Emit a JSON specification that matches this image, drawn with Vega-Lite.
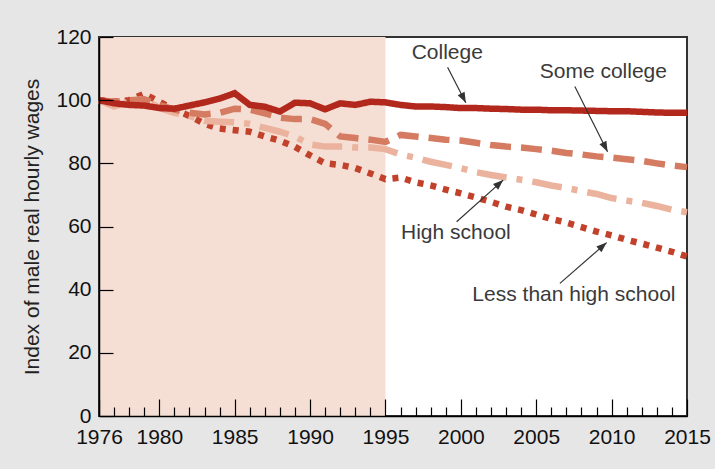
{
  "$schema": "https://vega.github.io/schema/vega-lite/v6.json",
  "width": 588,
  "height": 379,
  "autosize": {"type": "none"},
  "padding": {"left": 99, "top": 37, "right": 28, "bottom": 53},
  "background": "#e6e6e6",
  "config": {
    "view": {"stroke": "#333333", "strokeWidth": 2, "fill": "#ffffff"},
    "font": "Liberation Sans"
  },
  "datasets": {
    "wages": [
      {"year": 1976, "College": 100, "Some college": 100, "High school": 100, "Less than high school": 100},
      {"year": 1977, "College": 99, "Some college": 99.5, "High school": 98, "Less than high school": 99.5},
      {"year": 1978, "College": 98.5, "Some college": 100, "High school": 99.5, "Less than high school": 100},
      {"year": 1979, "College": 98.3, "Some college": 100.3, "High school": 100.5, "Less than high school": 102},
      {"year": 1980, "College": 97.5, "Some college": 98.5, "High school": 97.5, "Less than high school": 99.5},
      {"year": 1981, "College": 97.3, "Some college": 97, "High school": 96, "Less than high school": 97},
      {"year": 1982, "College": 98.3, "Some college": 96, "High school": 95, "Less than high school": 95},
      {"year": 1983, "College": 99.3, "Some college": 95.5, "High school": 93.5, "Less than high school": 92.5},
      {"year": 1984, "College": 100.5, "Some college": 96, "High school": 93.2, "Less than high school": 91},
      {"year": 1985, "College": 102.2, "Some college": 97.3, "High school": 93, "Less than high school": 90.5},
      {"year": 1986, "College": 98.5, "Some college": 97, "High school": 92.5, "Less than high school": 90},
      {"year": 1987, "College": 97.9, "Some college": 95.8, "High school": 91.2, "Less than high school": 88.5},
      {"year": 1988, "College": 96.4, "Some college": 94.5, "High school": 90, "Less than high school": 87.2},
      {"year": 1989, "College": 99.2, "Some college": 94, "High school": 88.5, "Less than high school": 85.2},
      {"year": 1990, "College": 99, "Some college": 94, "High school": 86, "Less than high school": 82.5},
      {"year": 1991, "College": 97.1, "Some college": 92.5, "High school": 85.3, "Less than high school": 80},
      {"year": 1992, "College": 99, "Some college": 88.5, "High school": 85.3, "Less than high school": 79.5},
      {"year": 1993, "College": 98.5, "Some college": 88, "High school": 85, "Less than high school": 78.5},
      {"year": 1994, "College": 99.5, "Some college": 87.5, "High school": 85, "Less than high school": 76.8},
      {"year": 1995, "College": 99.3, "Some college": 86.8, "High school": 84.5, "Less than high school": 75},
      {"year": 1996, "College": 98.5, "Some college": 89, "High school": 82.8, "Less than high school": 75.5},
      {"year": 1997, "College": 98, "Some college": 88.5, "High school": 81.8, "Less than high school": 74},
      {"year": 1998, "College": 98, "Some college": 88, "High school": 80.5, "Less than high school": 73},
      {"year": 1999, "College": 97.8, "Some college": 87.5, "High school": 79.5, "Less than high school": 71.7},
      {"year": 2000, "College": 97.5, "Some college": 87.2, "High school": 78.5, "Less than high school": 70.5},
      {"year": 2001, "College": 97.5, "Some college": 86.5, "High school": 77.2, "Less than high school": 69.2},
      {"year": 2002, "College": 97.3, "Some college": 85.8, "High school": 76.3, "Less than high school": 67.8},
      {"year": 2003, "College": 97.2, "Some college": 85.3, "High school": 75.5, "Less than high school": 66.3},
      {"year": 2004, "College": 97, "Some college": 85, "High school": 74.8, "Less than high school": 65.2},
      {"year": 2005, "College": 97, "Some college": 84.5, "High school": 74, "Less than high school": 63.8},
      {"year": 2006, "College": 96.8, "Some college": 84, "High school": 73, "Less than high school": 62.4},
      {"year": 2007, "College": 96.8, "Some college": 83.3, "High school": 72.2, "Less than high school": 61.2},
      {"year": 2008, "College": 96.7, "Some college": 82.8, "High school": 71.2, "Less than high school": 59.8},
      {"year": 2009, "College": 96.6, "Some college": 82.2, "High school": 70.3, "Less than high school": 58.4},
      {"year": 2010, "College": 96.5, "Some college": 81.8, "High school": 69, "Less than high school": 57.2},
      {"year": 2011, "College": 96.5, "Some college": 81.3, "High school": 68.2, "Less than high school": 55.8},
      {"year": 2012, "College": 96.3, "Some college": 80.8, "High school": 67.5, "Less than high school": 54.6},
      {"year": 2013, "College": 96.1, "Some college": 80, "High school": 66.5, "Less than high school": 53.3},
      {"year": 2014, "College": 96, "Some college": 79.3, "High school": 65.3, "Less than high school": 52},
      {"year": 2015, "College": 96, "Some college": 78.8, "High school": 64.5, "Less than high school": 50.5}
    ],
    "labels": [
      {"label": "College", "x": 1999.1, "y": 114.9},
      {"label": "Some college", "x": 2009.45, "y": 109},
      {"label": "High school", "x": 1999.67, "y": 57.85},
      {"label": "Less than high school", "x": 2007.5, "y": 38.3}
    ],
    "arrows": [
      {"label": "College", "x": 1999.12, "y": 110.4, "x2": 2000.33, "y2": 99.2},
      {"label": "Some college", "x": 2007.56, "y": 104.3, "x2": 2009.73, "y2": 83.7},
      {"label": "High school", "x": 1999.72, "y": 61.5, "x2": 2002.81, "y2": 74.7},
      {"label": "Less than high school", "x": 2006.57, "y": 42.0, "x2": 2009.67, "y2": 54.9}
    ],
    "shade": [{"start": 1976, "end": 1995}]
  },
  "resolve": {"axis": {"x": "independent"}},
  "layer": [
    {
      "data": {"name": "shade"},
      "mark": {"type": "rect", "fill": "#f5dfd5"},
      "encoding": {
        "x": {
          "field": "start", "type": "quantitative",
          "scale": {"domain": [1976, 2015], "nice": false, "zero": false},
          "axis": {
            "orient": "bottom", "zindex": 1,
            "values": [1977, 1978, 1979, 1981, 1982, 1983, 1984, 1986, 1987, 1988, 1989, 1991, 1992, 1993, 1994, 1996, 1997, 1998, 1999, 2001, 2002, 2003, 2004, 2006, 2007, 2008, 2009, 2011, 2012, 2013, 2014],
            "labels": false, "domain": false, "grid": false, "title": null,
            "tickSize": -9, "tickColor": "#000000", "tickWidth": 1.2
          }
        },
        "x2": {"field": "end"}
      }
    },
    {
      "data": {"name": "wages"},
      "transform": [
        {"fold": ["Less than high school", "High school", "Some college", "College"], "as": ["series", "value"]}
      ],
      "mark": {"type": "line", "strokeWidth": 6.5, "strokeCap": "butt", "strokeJoin": "miter"},
      "encoding": {
        "x": {
          "field": "year", "type": "quantitative",
          "scale": {"domain": [1976, 2015], "nice": false, "zero": false},
          "axis": {
            "orient": "bottom", "zindex": 1,
            "values": [1976, 1980, 1985, 1990, 1995, 2000, 2005, 2010, 2015],
            "format": "d", "title": null, "grid": false,
            "domainColor": "#000000", "domainWidth": 1.5,
            "tickColor": "#000000", "tickWidth": 1.2, "tickSize": -17,
            "labelPadding": 27, "labelFontSize": 21, "labelColor": "#111111",
            "labelFont": "Liberation Sans", "labelFlush": false, "labelOverlap": false
          }
        },
        "y": {
          "field": "value", "type": "quantitative",
          "scale": {"domain": [0, 120], "nice": false},
          "axis": {
            "zindex": 1,
            "values": [0, 20, 40, 60, 80, 100, 120],
            "title": "Index of male real hourly wages",
            "titleFontSize": 21, "titleFont": "Liberation Sans", "titleFontWeight": "normal",
            "titleColor": "#222222", "titlePadding": 13,
            "grid": false,
            "domainColor": "#000000", "domainWidth": 1.5,
            "tickColor": "#000000", "tickWidth": 1.2, "tickSize": -14,
            "labelPadding": 22, "labelFontSize": 21, "labelColor": "#111111",
            "labelFont": "Liberation Sans", "labelFlush": false, "labelOverlap": false
          }
        },
        "color": {
          "field": "series", "type": "nominal", "legend": null,
          "scale": {
            "domain": ["College", "Some college", "High school", "Less than high school"],
            "range": ["#b3281d", "#d47b61", "#ebb39e", "#c2412b"]
          }
        },
        "strokeDash": {
          "field": "series", "type": "nominal", "legend": null,
          "scale": {
            "domain": ["College", "Some college", "High school", "Less than high school"],
            "range": [[1, 0], [21, 10], [30, 10, 6, 10], [6, 7]]
          }
        }
      }
    },
    {
      "data": {"name": "labels"},
      "mark": {"type": "text", "fontSize": 21, "font": "Liberation Sans", "fill": "#3a3a3a", "align": "center", "baseline": "middle"},
      "encoding": {
        "x": {"field": "x", "type": "quantitative", "axis": null},
        "y": {"field": "y", "type": "quantitative"},
        "text": {"field": "label"}
      }
    },
    {
      "data": {"name": "arrows"},
      "mark": {"type": "rule", "stroke": "#333333", "strokeWidth": 1.2},
      "encoding": {
        "x": {"field": "x", "type": "quantitative", "axis": null},
        "y": {"field": "y", "type": "quantitative"},
        "x2": {"field": "x2"},
        "y2": {"field": "y2"}
      }
    },
    {
      "data": {"name": "arrows"},
      "transform": [{"filter": "datum.label === 'College'"}],
      "mark": {"type": "point", "shape": "M0,0L0.38,1L-0.38,1Z", "filled": true, "fill": "#333333", "strokeWidth": 0, "opacity": 1, "size": 420, "angle": 152.7},
      "encoding": {
        "x": {"field": "x2", "type": "quantitative", "axis": null},
        "y": {"field": "y2", "type": "quantitative"}
      }
    },
    {
      "data": {"name": "arrows"},
      "transform": [{"filter": "datum.label === 'Some college'"}],
      "mark": {"type": "point", "shape": "M0,0L0.38,1L-0.38,1Z", "filled": true, "fill": "#333333", "strokeWidth": 0, "opacity": 1, "size": 420, "angle": 153.3},
      "encoding": {
        "x": {"field": "x2", "type": "quantitative", "axis": null},
        "y": {"field": "y2", "type": "quantitative"}
      }
    },
    {
      "data": {"name": "arrows"},
      "transform": [{"filter": "datum.label === 'High school'"}],
      "mark": {"type": "point", "shape": "M0,0L0.38,1L-0.38,1Z", "filled": true, "fill": "#333333", "strokeWidth": 0, "opacity": 1, "size": 420, "angle": 48.2},
      "encoding": {
        "x": {"field": "x2", "type": "quantitative", "axis": null},
        "y": {"field": "y2", "type": "quantitative"}
      }
    },
    {
      "data": {"name": "arrows"},
      "transform": [{"filter": "datum.label === 'Less than high school'"}],
      "mark": {"type": "point", "shape": "M0,0L0.38,1L-0.38,1Z", "filled": true, "fill": "#333333", "strokeWidth": 0, "opacity": 1, "size": 420, "angle": 49},
      "encoding": {
        "x": {"field": "x2", "type": "quantitative", "axis": null},
        "y": {"field": "y2", "type": "quantitative"}
      }
    }
  ]
}
